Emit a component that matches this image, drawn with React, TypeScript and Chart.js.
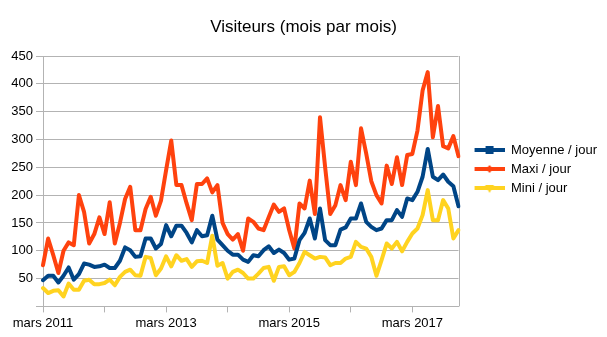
import React, { useEffect, useRef } from "react";
import { Chart, registerables } from "chart.js";

Chart.register(...registerables);

// ---- Data ----
const MONTH_NAMES = ["janv.", "févr.", "mars", "avr.", "mai", "juin", "juil.", "août", "sept.", "oct.", "nov.", "déc."];
const FIRST_YEAR = 2011;
const FIRST_MONTH_INDEX = 2; // mars
const MONTH_COUNT = 82; // mars 2011 .. déc. 2017

const categories: string[] = Array.from({ length: MONTH_COUNT }, (_, i) => {
  const k = FIRST_MONTH_INDEX + i;
  return `${MONTH_NAMES[k % 12]} ${FIRST_YEAR + Math.floor(k / 12)}`;
});

const tickLabels = ["mars 2011", "mars 2013", "mars 2015", "mars 2017"];
const yTicks = [50, 100, 150, 200, 250, 300, 350, 400, 450];

const seriesNames = ["Moyenne / jour", "Maxi / jour", "Mini / jour"];

const moyenne = [
  47, 55, 55, 43, 55, 70, 48, 58, 77, 75, 71, 72, 75, 69, 69, 82, 106, 101, 89, 90,
  122, 122, 104, 112, 146, 126, 145, 145, 132, 115, 137, 126, 128, 163, 120, 110, 100, 93, 93, 84,
  80, 92, 90, 101, 108, 96, 102, 96, 84, 86, 119, 132, 158, 122, 176, 119, 110, 110, 138, 142,
  158, 158, 185, 152, 143, 137, 140, 155, 155, 173, 161, 194, 191, 206, 233, 283, 233, 227, 237, 224,
  216, 180,
];

const maxi = [
  74, 122, 92, 60, 100, 115, 110, 200, 170, 113, 130, 160, 130, 187, 113, 150, 193, 215, 137, 137,
  175, 197, 163, 190, 245, 298, 218, 218, 185, 155, 220, 220, 230, 205, 218, 150, 130, 120, 130, 100,
  158, 152, 140, 137, 160, 183, 170, 176, 137, 104, 185, 176, 226, 166, 340, 250, 166, 182, 218, 191,
  260, 218, 320, 275, 225, 200, 185, 253, 220, 268, 218, 272, 274, 316, 388, 421, 304, 360, 288, 284,
  306, 270,
];

const mini = [
  33, 24, 28, 29, 18, 41, 30, 30, 46, 48, 40, 40, 42, 48, 38, 53, 62, 66, 56, 55,
  89, 87, 56, 68, 90, 72, 92, 82, 85, 71, 81, 82, 78, 127, 73, 78, 50, 62, 66, 60,
  50, 50, 59, 69, 71, 46, 71, 72, 56, 62, 78, 98, 92, 86, 89, 88, 74, 78, 78, 86,
  89, 116, 107, 104, 89, 55, 83, 113, 104, 116, 99, 116, 131, 140, 164, 209, 155, 155, 191, 176,
  122, 137,
];

// ---- Styles ----
const COLORS = ["#004586", "#ff420e", "#ffd320"];
const MARKERS = ["square", "diamond", "triangleDown"];
const GRID = "#b3b3b3";
const FONT = "'Liberation Sans', Arial, sans-serif";

function makeLegendIcon(color: string, marker: string): HTMLCanvasElement {
  const c = document.createElement("canvas");
  c.width = 40;
  c.height = 12;
  const ctx = c.getContext("2d")!;
  ctx.strokeStyle = color;
  ctx.lineWidth = 4;
  ctx.beginPath();
  ctx.moveTo(10, 6);
  ctx.lineTo(40, 6);
  ctx.stroke();
  ctx.fillStyle = color;
  const cx = 25;
  const cy = 6;
  ctx.beginPath();
  if (marker === "square") {
    ctx.rect(cx - 4, cy - 4, 8, 8);
  } else if (marker === "diamond") {
    ctx.moveTo(cx, cy - 4);
    ctx.lineTo(cx + 3.5, cy);
    ctx.lineTo(cx, cy + 4);
    ctx.lineTo(cx - 3.5, cy);
    ctx.closePath();
  } else {
    ctx.moveTo(cx - 4.5, cy - 3);
    ctx.lineTo(cx + 4.5, cy - 3);
    ctx.lineTo(cx, cy + 5);
    ctx.closePath();
  }
  ctx.fill();
  return c;
}

const framePlugin = {
  id: "frame",
  beforeDatasetsDraw(chart: any) {
    const { ctx, chartArea } = chart;
    ctx.save();
    ctx.strokeStyle = GRID;
    ctx.lineWidth = 1;
    ctx.beginPath();
    ctx.moveTo(Math.round(chartArea.right) + 0.5, chartArea.top);
    ctx.lineTo(Math.round(chartArea.right) + 0.5, chartArea.bottom);
    ctx.stroke();
    ctx.restore();
  },
};

export default function App() {
  const canvasRef = useRef<HTMLCanvasElement | null>(null);

  useEffect(() => {
    document.body.style.margin = "0";
    const canvas = canvasRef.current;
    if (!canvas) return;
    Chart.defaults.font.family = FONT;
    const icons = COLORS.map((c, i) => makeLegendIcon(c, MARKERS[i]));
    const seriesData = [moyenne, maxi, mini];

    const chart = new Chart(canvas, {
      type: "line",
      data: {
        labels: categories,
        datasets: seriesNames.map((name, i) => ({
          label: name,
          data: seriesData[i],
          borderColor: COLORS[i],
          backgroundColor: COLORS[i],
          borderWidth: 4,
          borderJoinStyle: "round",
          borderCapStyle: "round",
          pointRadius: 0,
          pointHoverRadius: 0,
          tension: 0,
          fill: false,
        })),
      },
      options: {
        responsive: false,
        animation: false,
        layout: { padding: { left: 0, right: 0, top: 4, bottom: 3 } },
        plugins: {
          title: {
            display: true,
            text: "Visiteurs (mois par mois)",
            color: "#000",
            font: { size: 17, weight: "normal", family: FONT },
            padding: { top: 13, bottom: 18.6 },
          },
          legend: {
            position: "right",
            labels: {
              usePointStyle: true,
              pointStyleWidth: 40,
              padding: 6,
              color: "#000",
              font: { size: 13, family: FONT },
              generateLabels: (ch: any) => {
                const items = Chart.defaults.plugins.legend.labels.generateLabels(ch);
                return items.map((it: any, i: number) => ({ ...it, pointStyle: icons[i] }));
              },
            },
          },
          tooltip: { enabled: false },
        },
        scales: {
          x: {
            type: "category",
            offset: false,
            border: { color: GRID },
            grid: {
              drawOnChartArea: false,
              tickLength: 6,
              color: (ctx: any) => (ctx.index % 12 === 0 ? GRID : "rgba(0,0,0,0)"),
            },
            ticks: {
              autoSkip: false,
              maxRotation: 0,
              minRotation: 0,
              padding: 3,
              color: "#000",
              font: { size: 13, family: FONT },
              callback: (_v: any, idx: number) => (tickLabels.includes(categories[idx]) ? categories[idx] : ""),
            },
          },
          y: {
            min: 0,
            max: 450,
            border: { color: GRID },
            grid: { color: GRID, tickLength: 7 },
            afterFit: (s: any) => {
              s.width = 43;
            },
            afterBuildTicks: (s: any) => {
              s.ticks = [0, ...yTicks].map((v) => ({ value: v }));
            },
            ticks: {
              padding: 3,
              color: "#000",
              font: { size: 13, family: FONT },
              callback: (v: any) => (yTicks.includes(Number(v)) ? String(v) : ""),
            },
          },
        },
      },
      plugins: [framePlugin],
    });
    return () => chart.destroy();
  }, []);

  return (
    <div style={{ width: 607, height: 337, background: "#fff" }}>
      <canvas ref={canvasRef} width={607} height={337} />
    </div>
  );
}
